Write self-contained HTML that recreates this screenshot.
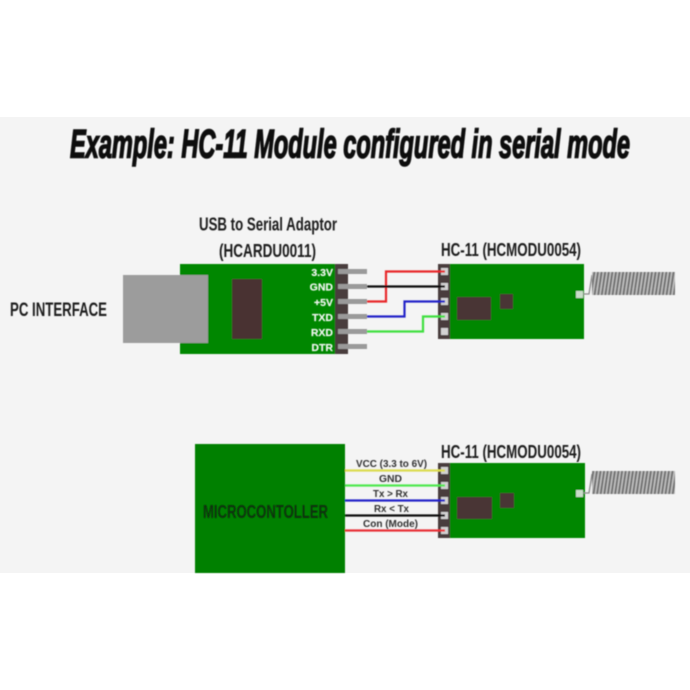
<!DOCTYPE html>
<html>
<head>
<meta charset="utf-8">
<style>
html,body{margin:0;padding:0;background:#fff;width:690px;height:690px;overflow:hidden}
svg{display:block}
text{font-family:"Liberation Sans",sans-serif;font-weight:bold}
</style>
</head>
<body>
<svg width="690" height="690" viewBox="0 0 690 690" xmlns="http://www.w3.org/2000/svg">
<defs>
<filter id="b" x="-5%" y="-5%" width="110%" height="110%"><feGaussianBlur stdDeviation="0.6"/></filter>
<filter id="t" x="-5%" y="-20%" width="110%" height="140%"><feGaussianBlur stdDeviation="0.5"/></filter>
<pattern id="coil" width="3.6" height="24" patternUnits="userSpaceOnUse" patternTransform="translate(592 0)">
<rect width="3.6" height="24" fill="#c4c4c4"/>
<path d="M0 24L3.6 0" stroke="#707070" stroke-width="2"/>
<path d="M-3.6 24L0 0M3.6 24L7.2 0" stroke="#707070" stroke-width="2"/>
</pattern>
</defs>
<rect x="0" y="117" width="690" height="456" fill="#f4f4f4"/>
<text x="70" y="157.500" font-size="40" font-style="italic" textLength="560" lengthAdjust="spacingAndGlyphs" fill="#0a0a0a" stroke="#0a0a0a" stroke-width="1.500" filter="url(#t)">Example: HC-11 Module configured in serial mode</text>

<g filter="url(#b)">
<!-- USB adaptor -->
<rect x="180" y="264" width="168" height="90" fill="#068706"/>
<rect x="123" y="275" width="85" height="68" fill="#9c9c9c"/>
<rect x="232" y="279" width="30" height="60" fill="#483030"/>
<rect x="335" y="264" width="13" height="90" fill="#483c3c"/>
<g fill="#9a9a9a">
<rect x="338" y="269" width="29" height="5"/>
<rect x="338" y="284" width="29" height="5"/>
<rect x="338" y="299" width="29" height="5"/>
<rect x="338" y="314" width="29" height="5"/>
<rect x="338" y="329" width="29" height="5"/>
<rect x="338" y="344" width="29" height="5"/>
</g>
<!-- Top HC-11 -->
<rect x="450" y="264" width="134" height="75" fill="#068706"/>
<rect x="438" y="264" width="12" height="75" fill="#483c3c"/>
<g fill="#d2d2d2">
<rect x="441" y="268" width="7" height="7"/>
<rect x="441" y="283" width="7" height="7"/>
<rect x="441" y="298" width="7" height="7"/>
<rect x="441" y="313" width="7" height="7"/>
<rect x="441" y="328" width="7" height="7"/>
</g>
<!-- Top wires -->
<g fill="none" stroke-width="2.200">
<path d="M367 301.500H386V271.500H445" stroke="#e8262a"/>
<path d="M367 286.500H445" stroke="#111"/>
<path d="M367 316.500H404.500V301.500H445" stroke="#2222c8"/>
<path d="M367 331.500H423V316.500H445" stroke="#3fe040"/>
</g>
<rect x="457" y="297" width="34" height="23" fill="#483434"/>
<rect x="500" y="294" width="13" height="15" fill="#483434"/>
<rect x="576" y="291" width="7" height="7" fill="#c8dcc8"/>
<path d="M583 294H589L592 275" fill="none" stroke="#888" stroke-width="1.300"/>
<rect x="592" y="272" width="83" height="23" fill="url(#coil)"/>

<!-- Microcontroller -->
<rect x="195" y="444" width="150" height="129" fill="#068006"/>
<!-- Bottom HC-11 -->
<rect x="450" y="463" width="135" height="75" fill="#068706"/>
<rect x="438" y="463" width="12" height="75" fill="#483c3c"/>
<g fill="#d2d2d2">
<rect x="441" y="467" width="7" height="7"/>
<rect x="441" y="482" width="7" height="7"/>
<rect x="441" y="497" width="7" height="7"/>
<rect x="441" y="512" width="7" height="7"/>
<rect x="441" y="527" width="7" height="7"/>
</g>
<!-- Bottom wires -->
<g fill="none" stroke-width="2.200">
<path d="M345 470.500H445" stroke="#dcdc50"/>
<path d="M345 485.500H445" stroke="#50e850"/>
<path d="M345 500.500H445" stroke="#2222c8"/>
<path d="M345 515.500H445" stroke="#111"/>
<path d="M345 530.500H445" stroke="#e83038"/>
</g>
<rect x="457" y="497" width="35" height="22" fill="#483434"/>
<rect x="500" y="493" width="14" height="15" fill="#483434"/>
<rect x="576" y="490" width="7" height="7" fill="#c8dcc8"/>
<path d="M583 493H589L592 474" fill="none" stroke="#888" stroke-width="1.300"/>
<rect x="592" y="471" width="83" height="23" fill="url(#coil)"/>
</g>

<g filter="url(#t)">
<text x="199" y="230.500" font-size="18" textLength="138" lengthAdjust="spacingAndGlyphs" fill="#1c1c1c">USB to Serial Adaptor</text>
<text x="219" y="257" font-size="18" textLength="97" lengthAdjust="spacingAndGlyphs" fill="#1c1c1c">(HCARDU0011)</text>
<text x="441" y="256" font-size="18" textLength="140" lengthAdjust="spacingAndGlyphs" fill="#1c1c1c">HC-11 (HCMODU0054)</text>
<text x="441" y="458" font-size="18" textLength="140" lengthAdjust="spacingAndGlyphs" fill="#1c1c1c">HC-11 (HCMODU0054)</text>
<text x="10" y="316" font-size="19" textLength="97" lengthAdjust="spacingAndGlyphs" fill="#1c1c1c">PC INTERFACE</text>
<text x="203" y="518" font-size="18" textLength="125" lengthAdjust="spacingAndGlyphs" fill="#0a330a">MICROCONTOLLER</text>
<g font-size="10.500" fill="#eef5ee" text-anchor="end" stroke="#eef5ee" stroke-width="0.200">
<text x="333" y="276">3.3V</text>
<text x="333" y="290.500">GND</text>
<text x="333" y="306">+5V</text>
<text x="333" y="321">TXD</text>
<text x="333" y="336">RXD</text>
<text x="333" y="351">DTR</text>
</g>
<g font-size="10" fill="#333">
<text x="356" y="467" textLength="71" lengthAdjust="spacingAndGlyphs">VCC (3.3 to 6V)</text>
<text x="379" y="482" textLength="23" lengthAdjust="spacingAndGlyphs">GND</text>
<text x="373" y="497" textLength="35" lengthAdjust="spacingAndGlyphs">Tx &gt; Rx</text>
<text x="374" y="512" textLength="35" lengthAdjust="spacingAndGlyphs">Rx &lt; Tx</text>
<text x="363" y="527" textLength="55" lengthAdjust="spacingAndGlyphs">Con (Mode)</text>
</g>
</g>
</svg>
</body>
</html>
